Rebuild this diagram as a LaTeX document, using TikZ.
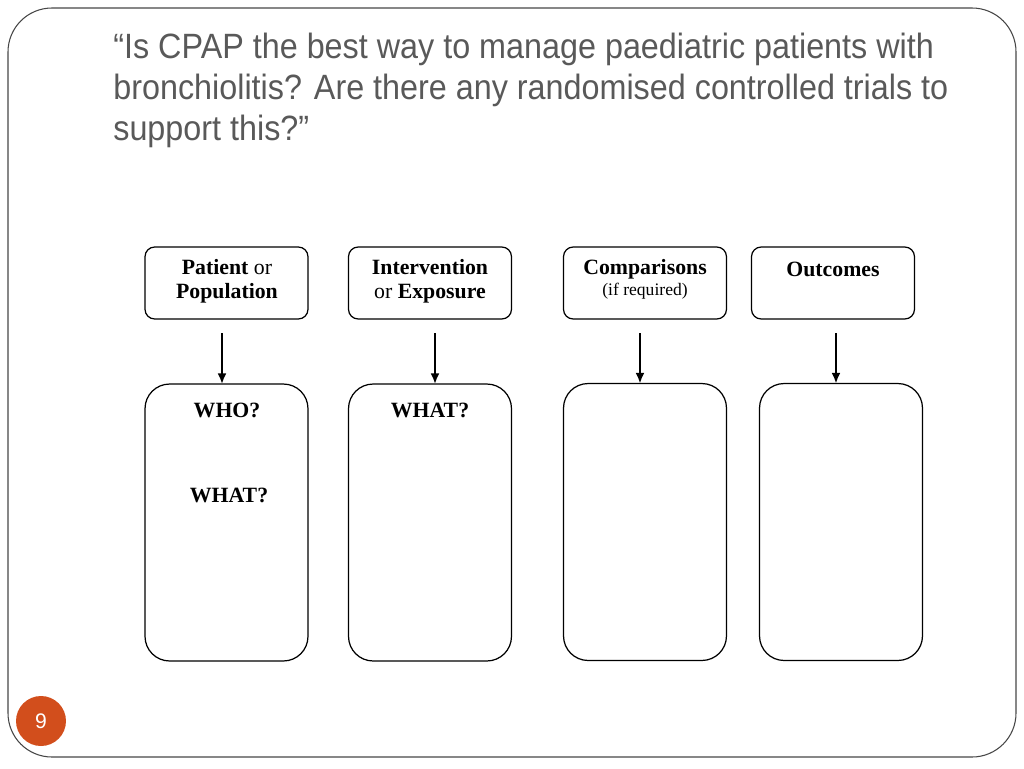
\documentclass[tikz,border=0pt]{standalone}
\usepackage{fontspec}
\usetikzlibrary{arrows.meta}
\setmainfont{Liberation Serif}
\newfontfamily\titlefont[FakeStretch=0.92]{Liberation Sans}
\newfontfamily\pagefont{Liberation Sans}
\definecolor{titlegray}{RGB}{89,89,89}
\definecolor{framegray}{RGB}{70,70,70}
\definecolor{pagered}{RGB}{210,78,28}
\tikzset{
    headbox/.style={draw, line width=0.7pt, rounded corners=5.5pt, inner sep=0pt, outer sep=0pt,
        minimum width=3.26cm, minimum height=1.44cm},
    askbox/.style={draw, line width=0.7pt, rounded corners=14pt, inner sep=0pt, outer sep=0pt,
        minimum width=3.26cm, minimum height=5.54cm},
    boxtext/.style={align=center, inner sep=0pt, font=\fontsize{12.4}{13.6}\selectfont},
    pointer/.style={-{Latex[length=6pt,width=5pt]}, line width=1.1pt},
}
\begin{document}
\begin{tikzpicture}[x=0.02cm, y=-0.02cm]
    \useasboundingbox (0, 0) rectangle (1024, 768);
    \draw[framegray, line width=0.6pt, rounded corners=25pt] (8, 8) rectangle (1016, 757);
    % title
    \node (title) [anchor=north west, align=left, inner sep=0pt, text=titlegray,
        font=\titlefont\fontsize{20}{23.2}\selectfont] at (113, 33)
        {“Is CPAP the best way to manage paediatric patients with\\
         bronchiolitis? Are there any randomised controlled trials to\\
         support this?”};
    % PICO headers
    \node (pat) [headbox] at (226.5, 283) {};
    \node (intv) [headbox] at (430, 283) {};
    \node (comp) [headbox] at (645, 283) {};
    \node (outc) [headbox] at (833, 283) {};
    \node (patlbl) [boxtext] at (227, 281) {\textbf{Patient} or\\\textbf{Population}};
    \node (intvlbl) [boxtext] at (430, 281) {\textbf{Intervention}\\or \textbf{Exposure}};
    \node (complbl) [boxtext] at (645, 269) {\textbf{Comparisons}};
    \node (compnote) [boxtext, font=\fontsize{10}{12}\selectfont] at (645, 291) {(if required)};
    \node (outclbl) [boxtext] at (833, 269) {\textbf{Outcomes}};
    % answer boxes
    \node (patq) [askbox] at (226.5, 522.5) {};
    \node (intvq) [askbox] at (430, 522.5) {};
    \node (compq) [askbox] at (645, 522) {};
    \node (outcq) [askbox] at (841, 522) {};
    \node (who) [boxtext] at (227, 410) {\textbf{WHO?}};
    \node (what) [boxtext] at (229, 495) {\textbf{WHAT?}};
    \node (whatb) [boxtext] at (430, 410) {\textbf{WHAT?}};
    % arrows
    \coordinate (a1) at (222, 333);
    \coordinate (a2) at (435, 333);
    \coordinate (a3) at (640, 333);
    \coordinate (a4) at (836, 333);
    \draw[pointer] (a1) -- (a1 |- patq.north);
    \draw[pointer] (a2) -- (a2 |- intvq.north);
    \draw[pointer] (a3) -- (a3 |- compq.north);
    \draw[pointer] (a4) -- (a4 |- outcq.north);
    % page number
    \node (pagenum) [circle, fill=pagered, minimum size=1cm, inner sep=0pt, text=white,
        font=\pagefont\fontsize{12}{14}\selectfont] at (41, 721) {9};
\end{tikzpicture}
\end{document}
